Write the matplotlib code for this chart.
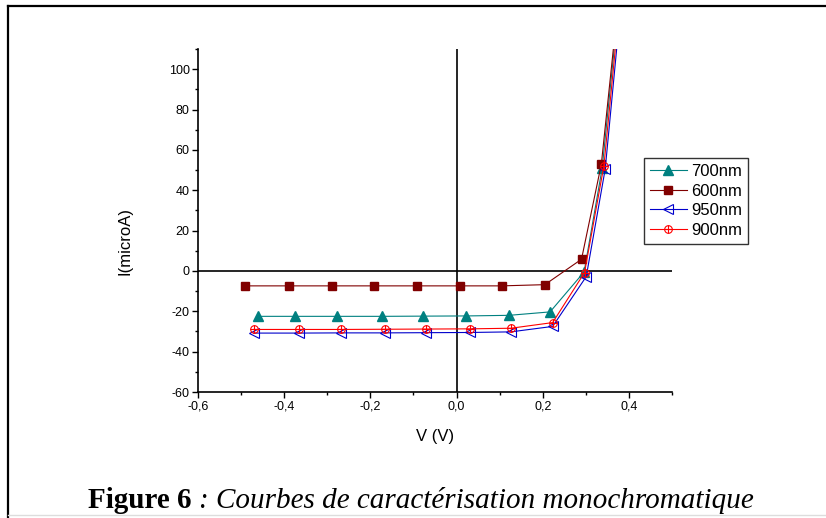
import matplotlib
matplotlib.use("Agg")
import matplotlib.pyplot as plt
from matplotlib.lines import Line2D
from matplotlib.legend_handler import HandlerTuple
from matplotlib.ticker import MultipleLocator, FuncFormatter

# Data (V in volts, I in microA)
v_700 = [-0.461, -0.374, -0.277, -0.174, -0.078, 0.023, 0.122, 0.217, 0.296, 0.338, 0.38]
i_700 = [-22.5, -22.5, -22.5, -22.5, -22.4, -22.3, -22.0, -20.3, -0.5, 51.0, 140.0]

v_600 = [-0.492, -0.388, -0.290, -0.192, -0.092, 0.009, 0.105, 0.205, 0.290, 0.336, 0.38]
i_600 = [-7.4, -7.4, -7.4, -7.4, -7.4, -7.4, -7.4, -6.8, 5.8, 52.9, 143.0]

v_950 = [-0.471, -0.366, -0.267, -0.167, -0.070, 0.031, 0.126, 0.223, 0.301, 0.345, 0.385]
i_950 = [-30.8, -30.8, -30.7, -30.7, -30.6, -30.5, -30.2, -27.5, -2.8, 50.5, 140.0]

v_900 = [-0.471, -0.366, -0.267, -0.167, -0.070, 0.031, 0.126, 0.223, 0.297, 0.342, 0.383]
i_900 = [-29.0, -29.0, -29.0, -28.9, -28.8, -28.7, -28.4, -25.6, -0.8, 52.2, 142.0]

labels = ["700nm", "600nm", "950nm", "900nm"]
x_ticks = [-0.6, -0.4, -0.2, 0.0, 0.2, 0.4]
y_ticks = [-60, -40, -20, 0, 20, 40, 60, 80, 100]

W, H = 826, 518
plt.rcParams['font.family'] = ['Liberation Sans', 'DejaVu Sans']
fig = plt.figure(figsize=(W / 100, H / 100), dpi=100)
fig.patch.set_facecolor("white")

left, right = 198 / W, 672 / W
bottom, top = 1 - 392 / H, 1 - 49 / H
ax = fig.add_axes([left, bottom, right - left, top - bottom])

lw = 0.8
c700, c600, c950, c900 = "#008080", "#800000", "#0000CC", "#FF0000"

ax.plot(v_700, i_700, color=c700, lw=lw, marker="^", ms=6.5, mfc=c700, mec=c700, zorder=3)
ax.plot(v_600, i_600, color=c600, lw=lw, marker="s", ms=6, mfc=c600, mec=c600, zorder=3)
ax.plot(v_950, i_950, color=c950, lw=lw, marker="<", ms=6.5, mfc="none", mec=c950, mew=0.8, zorder=3)
ax.plot(v_900, i_900, color=c900, lw=lw, marker="o", ms=5.5, mfc="none", mec=c900, mew=0.8, zorder=4)
ax.plot(v_900, i_900, ls="none", marker="+", ms=5.5, mec=c900, mew=0.8, zorder=4)

ax.axhline(0, color="black", lw=1.2, zorder=2)
ax.axvline(0, color="black", lw=1.2, zorder=2)

ax.set_xlim(-0.6, 0.5)
ax.set_ylim(-60, 110)

for s in ["top", "right"]:
    ax.spines[s].set_visible(False)
for s in ["left", "bottom"]:
    ax.spines[s].set_linewidth(1.2)

ax.set_xticks(x_ticks)
ax.set_yticks(y_ticks)
ax.xaxis.set_minor_locator(MultipleLocator(0.1))
ax.yaxis.set_minor_locator(MultipleLocator(10))
ax.xaxis.set_major_formatter(FuncFormatter(lambda v, p: ("%.1f" % v).replace(".", ",").replace("-0,0", "0,0")))
ax.yaxis.set_major_formatter(FuncFormatter(lambda v, p: "%d" % v))
ax.tick_params(axis="both", which="major", direction="out", length=4, width=1, labelsize=9, pad=2)
ax.tick_params(axis="both", which="minor", direction="out", length=2.5, width=1)

ax.set_xlabel("V (V)", fontsize=12, va="center")
ax.set_ylabel("I(microA)", fontsize=12, va="center")
ax.xaxis.set_label_coords(0.5, (392 - 437) / 343)
ax.yaxis.set_label_coords((125 - 198) / 474, (392 - 241) / 343)

h700 = Line2D([], [], color=c700, lw=lw, marker="^", ms=6.5, mfc=c700, mec=c700)
h600 = Line2D([], [], color=c600, lw=lw, marker="s", ms=6, mfc=c600, mec=c600)
h950 = Line2D([], [], color=c950, lw=lw, marker="<", ms=6.5, mfc="none", mec=c950, mew=0.8)
h900a = Line2D([], [], color=c900, lw=lw, marker="o", ms=5.5, mfc="none", mec=c900, mew=0.8)
h900b = Line2D([], [], ls="none", marker="+", ms=5.5, mec=c900, mew=0.8)
leg = ax.legend([h700, h600, h950, (h900a, h900b)], labels,
                handler_map={tuple: HandlerTuple(ndivide=1, pad=0)},
                loc="upper left", bbox_to_anchor=((644 - 198) / (672 - 198), 1 - (158 - 49) / (392 - 49)),
                fontsize=12, frameon=True, fancybox=False, edgecolor="black",
                handlelength=2.2, handletextpad=0.3, borderpad=0.35, labelspacing=0.28,
                borderaxespad=0)
leg.get_frame().set_linewidth(1.0)

# Caption
cap_y = 1 - 500 / H
t1 = fig.text(88 / W, cap_y, "Figure 6 ", fontsize=21, fontweight="bold",
              family=["Liberation Serif"], va="center", ha="left")
fig.canvas.draw()
bb = t1.get_window_extent()
t2 = fig.text(bb.x1 / W, cap_y, ": Courbes de caractérisation monochromatique", fontsize=21,
              style="italic", family=["Liberation Serif"], va="center", ha="left")

# Frame
fig.add_artist(Line2D([8 / W, 8 / W], [0, 1 - 6 / H], color="black", lw=1.6, transform=fig.transFigure))
fig.add_artist(Line2D([8 / W, 1], [1 - 6 / H, 1 - 6 / H], color="black", lw=1.6, transform=fig.transFigure))
fig.add_artist(Line2D([8 / W, 1], [1 - 515 / H, 1 - 515 / H], color="#dddddd", lw=1.0, transform=fig.transFigure))

fig.savefig("out.png", dpi=100)
